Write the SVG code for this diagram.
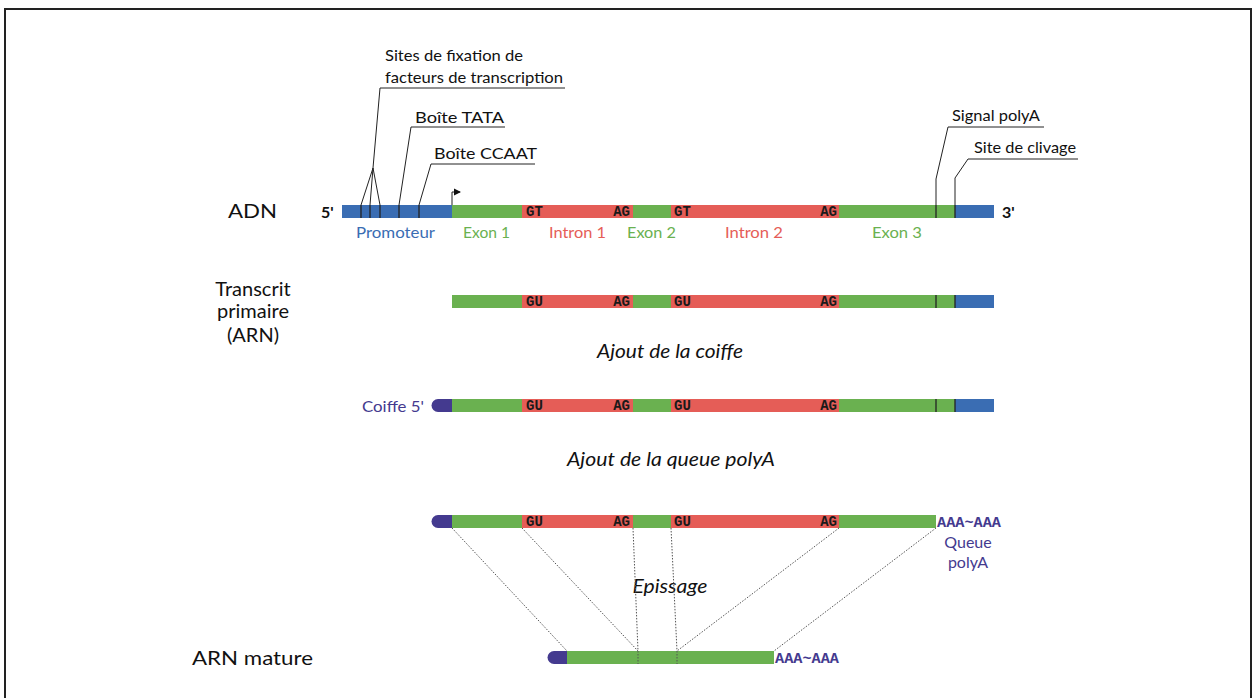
<svg xmlns="http://www.w3.org/2000/svg" width="1252" height="698" viewBox="0 0 1252 698">
<style>
.t{font-family:Lato,"Noto Sans","Liberation Sans",sans-serif;fill:#111}
.s{font-size:15px}
.big{font-size:20px}
.it{font-size:19px;font-style:italic}
.m{font-family:"Courier New","Liberation Mono",monospace;font-weight:bold;font-size:14px;fill:#1a1a1a}
.aaa{font-family:"Courier New","Liberation Mono",monospace;font-weight:bold;font-size:15px;fill:#443a8f}
.blue{fill:#3a6db3}.green{fill:#6ab150}.red{fill:#e55d57}.purple{fill:#443a8f}
.lbl{font-family:Lato,"Noto Sans","Liberation Sans",sans-serif;font-size:16px}
.ln{stroke:#222;stroke-width:1;fill:none}
.mk{stroke:#222;stroke-width:1.3}
.dot{stroke:#555;stroke-width:1;stroke-dasharray:1.5 1.5;fill:none}
</style>
<defs>
<marker id="ah" markerWidth="8" markerHeight="8" refX="6" refY="4" orient="auto" markerUnits="userSpaceOnUse">
<path d="M0,0.5 L7,4 L0,7.5 Z" fill="#111"/>
</marker>
</defs>
<rect x="5" y="9" width="1246" height="700" fill="#fff" stroke="#222" stroke-width="2"/>

<g id="row-labels">
<text class="t big" x="228" y="218" textLength="49" lengthAdjust="spacingAndGlyphs">ADN</text>
<text class="t big" x="253" y="296" text-anchor="middle">Transcrit</text>
<text class="t big" x="253" y="318" text-anchor="middle">primaire</text>
<text class="t big" x="253" y="342" text-anchor="middle">(ARN)</text>
<text class="t big" x="192" y="665" textLength="121" lengthAdjust="spacingAndGlyphs">ARN mature</text>
</g>

<g id="adn">
<rect class="blue" x="342" y="205" width="110" height="13"/>
<rect class="green" x="452" y="205" width="70" height="13"/>
<rect class="red" x="522" y="205" width="111" height="13"/>
<rect class="green" x="633" y="205" width="38" height="13"/>
<rect class="red" x="671" y="205" width="168" height="13"/>
<rect class="green" x="839" y="205" width="116" height="13"/>
<rect class="blue" x="955" y="205" width="39" height="13"/>
<text class="m" x="526" y="216">GT</text>
<text class="m" x="630" y="216" text-anchor="end">AG</text>
<text class="m" x="674" y="216">GT</text>
<text class="m" x="837" y="216" text-anchor="end">AG</text>
<text class="t" x="321" y="218" font-size="16" font-weight="bold">5'</text>
<text class="t" x="1002" y="218" font-size="16" font-weight="bold">3'</text>
<text class="lbl blue" x="356" y="238" textLength="79" lengthAdjust="spacingAndGlyphs">Promoteur</text>
<text class="lbl green" x="463" y="238" textLength="47" lengthAdjust="spacingAndGlyphs">Exon 1</text>
<text class="lbl red" x="549" y="238" textLength="57" lengthAdjust="spacingAndGlyphs">Intron 1</text>
<text class="lbl green" x="627" y="238" textLength="49" lengthAdjust="spacingAndGlyphs">Exon 2</text>
<text class="lbl red" x="725" y="238" textLength="58" lengthAdjust="spacingAndGlyphs">Intron 2</text>
<text class="lbl green" x="872" y="238" textLength="50" lengthAdjust="spacingAndGlyphs">Exon 3</text>
</g>

<g id="annotations">
<line class="mk" x1="361" y1="205" x2="361" y2="218"/>
<line class="mk" x1="370" y1="205" x2="370" y2="218"/>
<line class="mk" x1="380" y1="205" x2="380" y2="218"/>
<line class="mk" x1="399" y1="205" x2="399" y2="218"/>
<line class="mk" x1="419" y1="205" x2="419" y2="218"/>
<polyline class="ln" points="361,205 373,168 370,205"/>
<polyline class="ln" points="380,205 373,168 380,88 565,88"/>
<polyline class="ln" points="399,205 411,127 505,127"/>
<polyline class="ln" points="419,205 431,164 535,164"/>
<text class="t s" x="385" y="61" textLength="138" lengthAdjust="spacingAndGlyphs">Sites de fixation de</text>
<text class="t s" x="385" y="83" textLength="178" lengthAdjust="spacingAndGlyphs">facteurs de transcription</text>
<text class="t s" x="415" y="123" textLength="89" lengthAdjust="spacingAndGlyphs">Boîte TATA</text>
<text class="t s" x="434" y="159" textLength="103" lengthAdjust="spacingAndGlyphs">Boîte CCAAT</text>
<polyline class="ln" points="452,205 452,192 460,192" marker-end="url(#ah)"/>
<line class="mk" x1="936" y1="205" x2="936" y2="218"/>
<line class="mk" x1="955" y1="205" x2="955" y2="218"/>
<polyline class="ln" points="936,205 936,179 948,127 1044,127"/>
<polyline class="ln" points="955,205 955,178 968,159 1078,159"/>
<text class="t s" x="952" y="121" textLength="88" lengthAdjust="spacingAndGlyphs">Signal polyA</text>
<text class="t s" x="974" y="153" textLength="102" lengthAdjust="spacingAndGlyphs">Site de clivage</text>
</g>

<g id="transcrit">
<rect class="green" x="452" y="295" width="70" height="13"/>
<rect class="red" x="522" y="295" width="111" height="13"/>
<rect class="green" x="633" y="295" width="38" height="13"/>
<rect class="red" x="671" y="295" width="168" height="13"/>
<rect class="green" x="839" y="295" width="116" height="13"/>
<rect class="blue" x="955" y="295" width="39" height="13"/>
<line class="mk" x1="936" y1="295" x2="936" y2="308"/>
<line class="mk" x1="955" y1="295" x2="955" y2="308"/>
<text class="m" x="526" y="306">GU</text>
<text class="m" x="630" y="306" text-anchor="end">AG</text>
<text class="m" x="674" y="306">GU</text>
<text class="m" x="837" y="306" text-anchor="end">AG</text>
</g>

<g id="step-coiffe">
<text class="t it" x="670" y="358" text-anchor="middle" textLength="146" lengthAdjust="spacingAndGlyphs">Ajout de la coiffe</text>
</g>

<g id="coiffe">
<path class="purple" d="M452,399 L438,399 A6.5,6.5 0 0 0 438,412 L452,412 Z"/>
<rect class="green" x="452" y="399" width="70" height="13"/>
<rect class="red" x="522" y="399" width="111" height="13"/>
<rect class="green" x="633" y="399" width="38" height="13"/>
<rect class="red" x="671" y="399" width="168" height="13"/>
<rect class="green" x="839" y="399" width="116" height="13"/>
<rect class="blue" x="955" y="399" width="39" height="13"/>
<line class="mk" x1="936" y1="399" x2="936" y2="412"/>
<line class="mk" x1="955" y1="399" x2="955" y2="412"/>
<text class="m" x="526" y="410">GU</text>
<text class="m" x="630" y="410" text-anchor="end">AG</text>
<text class="m" x="674" y="410">GU</text>
<text class="m" x="837" y="410" text-anchor="end">AG</text>
<text class="lbl purple" x="362" y="412" textLength="62" lengthAdjust="spacingAndGlyphs">Coiffe 5'</text>
</g>

<g id="step-polyA">
<text class="t it" x="671" y="466" text-anchor="middle" textLength="208" lengthAdjust="spacingAndGlyphs">Ajout de la queue polyA</text>
</g>

<g id="polyA">
<path class="purple" d="M452,515 L438,515 A6.5,6.5 0 0 0 438,528 L452,528 Z"/>
<rect class="green" x="452" y="515" width="70" height="13"/>
<rect class="red" x="522" y="515" width="111" height="13"/>
<rect class="green" x="633" y="515" width="38" height="13"/>
<rect class="red" x="671" y="515" width="168" height="13"/>
<rect class="green" x="839" y="515" width="97" height="13"/>
<text class="m" x="526" y="526">GU</text>
<text class="m" x="630" y="526" text-anchor="end">AG</text>
<text class="m" x="674" y="526">GU</text>
<text class="m" x="837" y="526" text-anchor="end">AG</text>
<text class="aaa" x="937" y="527" textLength="64" lengthAdjust="spacingAndGlyphs">AAA~AAA</text>
<text class="lbl purple" x="968" y="548" text-anchor="middle">Queue</text>
<text class="lbl purple" x="968" y="568" text-anchor="middle">polyA</text>
</g>

<g id="step-epissage">
<text class="t it" x="670" y="593" text-anchor="middle" textLength="75" lengthAdjust="spacingAndGlyphs">Epissage</text>
</g>

<g id="connectors">
<line class="dot" x1="452" y1="528" x2="567" y2="651"/>
<line class="dot" x1="522" y1="528" x2="638" y2="651"/>
<line class="dot" x1="633" y1="528" x2="638" y2="651"/>
<line class="dot" x1="671" y1="528" x2="677" y2="651"/>
<line class="dot" x1="839" y1="528" x2="677" y2="651"/>
<line class="dot" x1="936" y1="528" x2="774" y2="651"/>
</g>

<g id="mature">
<path class="purple" d="M567,651 L554,651 A6.5,6.5 0 0 0 554,664 L567,664 Z"/>
<rect class="green" x="567" y="651" width="207" height="13"/>
<line class="dot" x1="638" y1="651" x2="638" y2="664"/>
<line class="dot" x1="677" y1="651" x2="677" y2="664"/>
<text class="aaa" x="775" y="663" textLength="64" lengthAdjust="spacingAndGlyphs">AAA~AAA</text>
</g>
</svg>
